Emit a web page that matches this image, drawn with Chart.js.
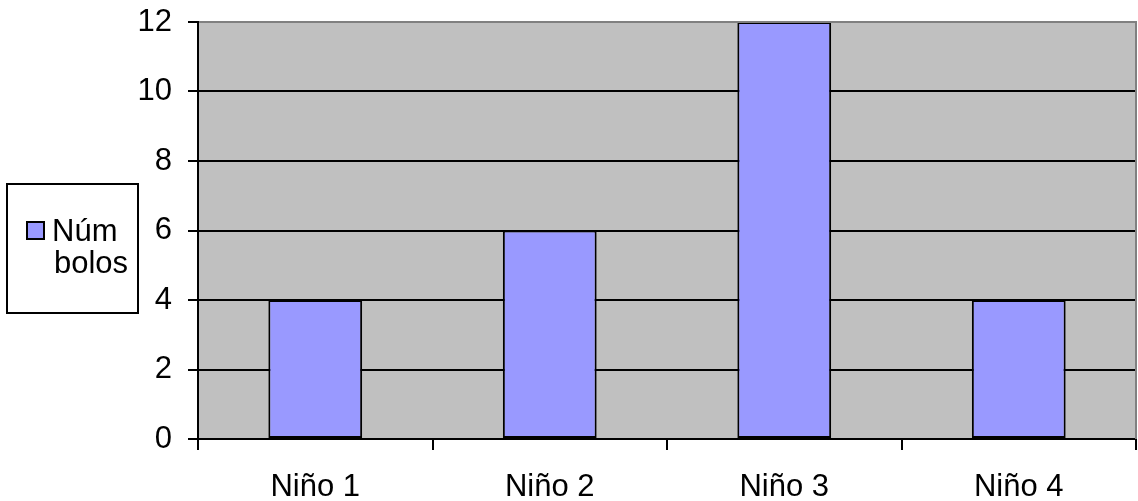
<!DOCTYPE html>
<html>
<head>
<meta charset="utf-8">
<style>
  html, body { margin: 0; padding: 0; background: #ffffff; }
  #wrap { position: relative; width: 1138px; height: 501px; }
</style>
<script src="https://cdn.jsdelivr.net/npm/chart.js@4/dist/chart.umd.min.js"></script>
</head>
<body>
<div id="wrap"><canvas id="c" width="1138" height="501"></canvas></div>
<script>
// Bowling pins knocked down per child
const categories = ['Niño 1', 'Niño 2', 'Niño 3', 'Niño 4'];
const pins = [4, 6, 12, 4];
const seriesLabel = ['Núm', 'bolos'];
const yTicks = [0, 2, 4, 6, 8, 10, 12];

const FONT = "'Liberation Sans', Arial, sans-serif";
const FONT_SIZE = 31;

// Gray plot background with gray top/right frame
const plotFrame = {
  id: 'plotFrame',
  beforeDraw(chart) {
    const { ctx, chartArea: a } = chart;
    ctx.save();
    ctx.fillStyle = '#C0C0C0';
    ctx.fillRect(a.left, a.top, a.right - a.left, a.bottom - a.top);
    ctx.restore();
  },
  afterDraw(chart) {
    const { ctx, chartArea: a } = chart;
    ctx.save();
    ctx.strokeStyle = '#808080';
    ctx.lineWidth = 2;
    ctx.beginPath();
    ctx.moveTo(a.left + 1, a.top);
    ctx.lineTo(a.right, a.top);
    ctx.lineTo(a.right, a.bottom);
    ctx.stroke();
    ctx.restore();
  }
};

// Boxed legend on the left side
const boxLegend = {
  id: 'boxLegend',
  afterDraw(chart) {
    const { ctx } = chart;
    const ds = chart.data.datasets[0];
    ctx.save();
    ctx.strokeStyle = '#000';
    ctx.lineWidth = 2;
    ctx.strokeRect(7, 184, 131, 129);
    ctx.fillStyle = ds.backgroundColor;
    ctx.fillRect(27, 222, 17, 17);
    ctx.strokeRect(27, 222, 17, 17);
    ctx.fillStyle = '#000';
    ctx.font = FONT_SIZE + 'px ' + FONT;
    ctx.textAlign = 'left';
    ctx.textBaseline = 'alphabetic';
    const lines = ds.label;
    ctx.fillText(lines[0], 52, 241);
    ctx.fillText(lines[1], 54, 273);
    ctx.restore();
  }
};

new Chart(document.getElementById('c'), {
  type: 'bar',
  data: {
    labels: categories,
    datasets: [{
      label: seriesLabel,
      data: pins,
      backgroundColor: '#9999FF',
      borderColor: '#000000',
      borderWidth: 2,
      borderSkipped: false,
      barPercentage: 0.4,
      categoryPercentage: 1.0
    }]
  },
  options: {
    responsive: false,
    animation: false,
    devicePixelRatio: 1,
    layout: { padding: { top: 22, right: 2, left: 0, bottom: 0 } },
    plugins: {
      legend: { display: false },
      tooltip: { enabled: false }
    },
    scales: {
      x: {
        afterFit(scale) {
          scale.height = 62;
          scale.paddingLeft = 0;
          scale.paddingRight = 0;
        },
        grid: {
          display: true,
          drawOnChartArea: false,
          offset: true,
          tickLength: 11,
          color: '#000',
          lineWidth: 2
        },
        border: { display: true, color: '#000', width: 2 },
        ticks: {
          color: '#000',
          font: { family: FONT, size: FONT_SIZE },
          padding: 19,
          maxRotation: 0
        }
      },
      y: {
        min: 0,
        max: 12,
        afterFit(scale) {
          scale.width = 198;
          scale.paddingTop = 0;
          scale.paddingBottom = 0;
        },
        afterBuildTicks(scale) { scale.ticks = yTicks.map(v => ({ value: v })); },
        grid: {
          color: '#000',
          lineWidth: 2,
          tickLength: 10
        },
        border: { display: true, color: '#000', width: 2 },
        ticks: {
          color: '#000',
          font: { family: FONT, size: FONT_SIZE },
          padding: 16
        }
      }
    }
  },
  plugins: [plotFrame, boxLegend]
});
</script>
</body>
</html>
